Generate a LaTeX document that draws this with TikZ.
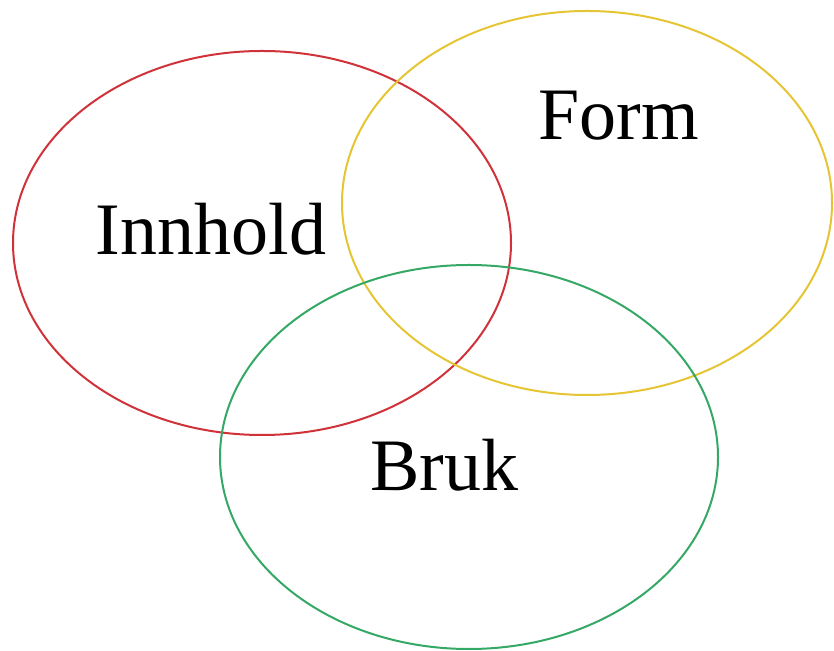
\documentclass[tikz,border=0pt]{standalone}
\usepackage{fontspec}
\setmainfont{Liberation Serif}
\definecolor{cred}{HTML}{D0323A}
\definecolor{cyellow}{HTML}{E6C534}
\definecolor{cgreen}{HTML}{36A865}
\begin{document}
\begin{tikzpicture}[x=1pt,y=1pt,
  ring/.style={line width=2pt},
  label/.style={inner sep=0pt,anchor=base,font=\fontsize{74}{80}\selectfont}]
\useasboundingbox (0,0) rectangle (834,650);
\draw[ring,cred] (262,407) ellipse [x radius=249, y radius=192];
\draw[ring,cyellow] (587,447) ellipse [x radius=245, y radius=192];
\draw[ring,cgreen] (469,193) ellipse [x radius=249, y radius=192];
\node[label] (innhold) at (211,395) {Innhold};
\node[label] (form) at (619,510) {Form};
\node[label] (bruk) at (444,159) {Bruk};
\end{tikzpicture}
\end{document}
